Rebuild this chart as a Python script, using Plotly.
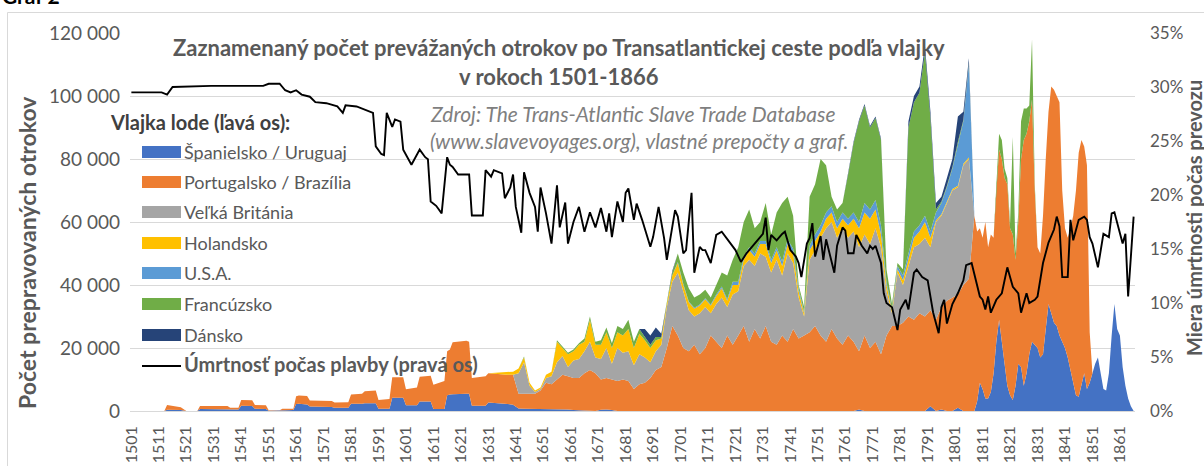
import plotly.graph_objects as go

# ---------------- data ----------------
YEARS_EARLY = [1501, 1513, 1514, 1518, 1519, 1521, 1525, 1526, 1536, 1537, 1540, 1541, 1542, 1545,
               1546, 1549, 1550, 1551, 1555, 1556, 1560, 1561, 1562, 1565, 1566, 1574, 1575, 1580,
               1581, 1585, 1586, 1590, 1591, 1595, 1596, 1600, 1601, 1605, 1606, 1610, 1611, 1615,
               1616, 1617, 1618, 1623, 1624, 1625, 1630, 1631, 1636, 1638]
YEARS_MAIN = list(range(1640, 1807, 2))
YEARS_LATE = list(range(1808, 1867))

SPAIN_EARLY = [0, 0, 400, 400, 300, 0, 0, 600, 600, 500, 500, 1700, 1700, 1600,
               700, 700, 600, 100, 100, 300, 300, 2200, 2300, 2100, 1400, 1300, 1000, 1000,
               2300, 2300, 2500, 2500, 700, 700, 4200, 4200, 1800, 1800, 3000, 3000, 600, 600,
               5000, 5200, 5300, 5500, 5500, 1700, 1700, 2700, 2500, 2200]
PORTUGAL_EARLY = [0, 0, 1500, 1100, 900, 0, 0, 1000, 1000, 500, 500, 1800, 1800, 1800,
                  1200, 1200, 1200, 100, 100, 400, 400, 2500, 2600, 2700, 1900, 1900, 1700, 1800,
                  2900, 3200, 3800, 4000, 2800, 3100, 6500, 6500, 5100, 5700, 7900, 8200, 7700, 8900,
                  14000, 14300, 16500, 16800, 16500, 8800, 9300, 9300, 9000, 9300]

SPAIN_MAIN = [2000, 800, 700, 700, 600, 700, 500, 500, 700, 500,
              500, 300, 200, 100, 0, 0, 400, 500, 300, 0,
              0, 0, 0, 0, 0, 0, 0, 0, 0, 0,
              0, 0, 0, 0, 0, 0, 0, 0, 0, 0,
              0, 0, 0, 0, 0, 0, 0, 0, 0, 0,
              0, 0, 0, 0, 0, 0, 0, 0, 0, 0,
              0, 0, 0, 500, 0, 0, 0, 0, 0, 0,
              0, 0, 0, 0, 0, 0, 1500, 0, 500, 0,
              0, 1000, 0, 0]
PORTUGAL_MAIN = [9500, 4700, 4800, 4800, 4900, 5800, 8500, 8000, 9300, 11000,
                 10500, 10200, 10300, 11900, 13000, 12000, 9600, 10000, 9700, 9500,
                 10000, 9500, 7000, 8500, 9000, 10500, 13000, 14000, 20000, 27000,
                 24000, 20000, 19000, 21000, 18000, 20000, 24000, 22000, 20000, 24000,
                 21000, 24000, 27000, 22000, 26000, 23000, 27000, 22000, 21000, 24000,
                 22000, 26000, 23000, 24000, 25000, 27000, 24000, 22000, 26000, 23000,
                 21000, 24000, 22000, 18500, 24000, 20000, 22000, 18000, 24000, 27000,
                 27000, 28000, 30000, 29000, 31000, 30000, 30500, 29000, 32500, 35000,
                 36000, 36000, 40000, 42000]

SPAIN_LATE = [0, 3000, 9000, 7000, 4000, 4000, 6000, 12000, 22000, 29000,
              22000, 14000, 8000, 5000, 3500, 8000, 15000, 14000, 8000, 12000,
              18000, 22000, 21000, 20000, 17000, 18000, 26000, 34000, 31000, 28000,
              27000, 24000, 22000, 20000, 17000, 13000, 8000, 5000, 4500, 8000,
              12000, 7000, 9000, 12000, 15000, 17000, 12000, 7000, 6500, 12000,
              24000, 34000, 26000, 24000, 14000, 8000, 4000, 1500, 0]
PORTUGAL_LATE = [62000, 54000, 49000, 48000, 56000, 48000, 50000, 43000, 48000, 54000,
                 58000, 60000, 64000, 53000, 52500, 40000, 45000, 66000, 78000, 76000,
                 74000, 77000, 49000, 32000, 33000, 44000, 54000, 61000, 72000, 74000,
                 73000, 74000, 48000, 38000, 38000, 45000, 54000, 65000, 77500, 78000,
                 72000, 71000, 16000, 0, 0, 0, 0, 0, 0, 0,
                 0, 0, 0, 0, 0, 0, 0, 0, 0]

YEARS_GB = list(range(1640, 1809, 2))
BRITAIN = [0, 6500, 10000, 2500, 500, 500, 1500, 2500, 5500, 6000,
           3000, 5500, 6000, 7000, 9000, 5000, 6500, 9500, 5000, 10500,
           8500, 9500, 7500, 9500, 8000, 5000, 6000, 7000, 13000, 14000,
           20000, 18000, 13000, 9000, 13000, 13000, 7000, 12000, 16000, 9000,
           16000, 14000, 19000, 26000, 20000, 27000, 22000, 22000, 27000, 19000,
           28000, 21000, 13000, 6000, 23000, 24000, 31000, 36000, 34000, 32000,
           37000, 31000, 35000, 33000, 32000, 33000, 36000, 34000, 14000, 4000,
           17000, 12000, 16000, 23000, 22000, 25000, 20000, 31000, 29000, 31000,
           34000, 34000, 38000, 38000, 0]

YEARS_NL = [1631, 1636, 1638] + list(range(1640, 1809, 2))
HOLLAND = [0, 800, 1000,
           1000, 1500, 1500, 1000, 500, 500, 1000, 1500, 6500, 2500,
           4000, 3000, 4500, 3000, 7000, 4000, 4500, 5000, 5000, 5000,
           5500, 7000, 5500, 6500, 5500, 4500, 3500, 2000, 1000, 2000,
           3000, 2000, 2500, 2500, 2500, 2500, 2500, 2500, 3000, 2000,
           3000, 2000, 2000, 3000, 3000, 3000, 4000, 3000, 3000, 3000,
           3000, 3000, 2000, 1000, 3000, 3000, 2000, 3000, 3000, 3000,
           3000, 4000, 4000, 6000, 7000, 8000, 6000, 4000, 2000, 1000,
           1000, 1500, 2000, 3000, 4000, 5000, 3000, 500, 500, 500,
           500, 500, 500, 500, 0]

YEARS_US = list(range(1698, 1809, 2))
USA = [0, 300, 300, 300, 300, 300, 300, 300, 500, 500, 500,
       1000, 1000, 1000, 1000, 1000, 1000, 1000, 1000, 1000, 1500,
       1500, 1500, 1000, 500, 1500, 2000, 2000, 2000, 2000, 2000,
       2000, 2000, 2000, 2000, 3000, 3000, 3000, 3000, 1000, 500,
       1000, 1500, 2000, 2000, 2000, 2000, 2000, 2500, 3500, 4500,
       6500, 13500, 13500, 29500, 0]

YEARS_FR = list(range(1640, 1807, 2)) + list(range(1808, 1841))
FRANCE = [0, 0, 300, 0, 0, 0, 0, 0, 500, 500,
          500, 500, 500, 1000, 1000, 1000, 1500, 1500, 1500, 2000,
          2000, 3000, 2000, 1500, 1000, 1000, 1000, 500, 500, 1000,
          2700, 3700, 4200, 3200, 3200, 2700, 2200, 3000, 4500, 7500,
          7000, 11000, 11000, 12000, 8000, 6000, 12000, 8000, 11000, 18500,
          13500, 10500, 1000, 1500, 15500, 16000, 21000, 15000, 3000, 4000,
          3000, 14000, 22000, 32000, 31000, 26000, 26000, 27000, 4000, 1500,
          1000, 2000, 40000, 41000, 42000, 52000, 36000, 1000, 500, 500,
          500, 500, 500, 500,
          0, 0, 0, 0, 0, 0, 0, 0, 3000, 5000,
          6000, 3000, 2000, 1500, 31000, 2000, 3000, 12000, 10000, 8000,
          5000, 19000, 2000, 0, 0, 0, 0, 0, 0, 0,
          0, 0, 0]

YEARS_DK = list(range(1686, 1809, 2))
DENMARK = [0, 2500, 3000, 3000, 1000, 500, 500,
           0, 0, 0, 0, 0, 0, 0, 0, 0, 0,
           0, 0, 0, 0, 0, 0, 0, 0, 0, 0,
           0, 0, 0, 0, 0, 0, 0, 0, 0, 0,
           0, 500, 500, 500, 500, 500, 500, 500, 0, 0,
           0, 0, 2000, 2000, 2000, 2000, 2000, 2000, 1500, 2500,
           2500, 8000, 2500, 1500, 0]

MORT_YEARS = [1501, 1512, 1514, 1516, 1530, 1549, 1551, 1555, 1557, 1559, 1561, 1563, 1566, 1568,
              1572, 1576, 1578, 1579, 1583, 1586, 1588, 1589, 1590, 1592, 1593, 1594, 1596, 1597,
              1599, 1600, 1603, 1606, 1608, 1609, 1610, 1612, 1614, 1616, 1617, 1618, 1620, 1624,
              1625, 1629, 1630, 1631, 1632, 1633, 1636, 1637, 1639, 1640, 1641, 1643, 1644, 1646,
              1648, 1649, 1650, 1652, 1654, 1656, 1657, 1659, 1660, 1662, 1664, 1666, 1668, 1670,
              1672, 1674, 1675, 1676, 1678, 1680, 1681, 1682, 1684, 1685, 1687, 1690, 1691, 1693,
              1695, 1696, 1699, 1700, 1702, 1703, 1705, 1706, 1708, 1709, 1710, 1712, 1714, 1716,
              1718, 1720, 1721, 1723, 1725, 1727, 1729, 1731, 1732, 1733, 1734, 1736, 1738, 1739,
              1741, 1743, 1744, 1745, 1747, 1748, 1749, 1750, 1752, 1753, 1754, 1756, 1757, 1758,
              1760, 1761, 1762, 1764, 1765, 1767, 1769, 1770, 1771, 1772, 1774, 1775, 1776, 1778,
              1780, 1781, 1783, 1784, 1786, 1787, 1789, 1791, 1792, 1793, 1795, 1796, 1797, 1798,
              1800, 1802, 1804, 1805, 1807, 1810, 1811, 1812, 1813, 1814, 1816, 1818, 1820, 1822,
              1824, 1825, 1827, 1828, 1830, 1831, 1833, 1835, 1837, 1838, 1839, 1840, 1842, 1843,
              1844, 1846, 1848, 1849, 1850, 1851, 1853, 1854, 1855, 1857, 1858, 1859, 1860, 1862,
              1863, 1864, 1866]
MORT_PCT = [29.5, 29.5, 29.3, 30.0, 30.1, 30.1, 30.3, 30.3, 29.7, 29.5, 29.7, 29.3, 29.1, 28.6,
            28.5, 28.2, 27.6, 28.3, 28.2, 27.9, 27.7, 27.6, 24.5, 23.8, 23.7, 27.6, 26.3, 27.0,
            26.8, 24.2, 22.8, 24.2, 23.5, 23.3, 19.4, 19.0, 18.3, 23.5, 22.8, 22.6, 21.9, 21.9,
            18.1, 18.1, 22.3, 22.0, 21.7, 22.3, 22.0, 19.7, 20.7, 21.9, 18.9, 16.5, 22.1, 20.2,
            18.9, 16.6, 20.7, 18.3, 15.5, 20.9, 17.0, 19.3, 15.5, 17.5, 18.9, 16.6, 18.4, 17.0,
            18.8, 16.6, 18.3, 16.1, 19.4, 17.5, 20.2, 20.6, 17.7, 19.2, 17.7, 15.2, 16.1, 18.9,
            16.0, 14.0, 18.6, 18.0, 14.6, 14.9, 20.2, 12.8, 15.2, 14.9, 14.9, 13.7, 16.3, 16.6,
            15.9, 15.2, 14.9, 13.8, 14.6, 15.2, 15.8, 16.4, 17.9, 14.9, 16.3, 15.8, 16.4, 16.6,
            14.9, 14.3, 13.7, 12.4, 15.5, 16.0, 17.4, 14.3, 16.2, 14.0, 15.9, 14.0, 12.8, 15.3,
            17.0, 16.7, 14.6, 14.6, 16.3, 15.3, 14.6, 15.3, 15.0, 15.3, 13.7, 10.9, 10.0, 9.6,
            7.5, 9.4, 10.3, 9.4, 12.8, 13.1, 12.4, 12.1, 10.6, 9.1, 7.2, 9.6, 10.3, 8.1,
            9.9, 10.9, 12.1, 13.5, 13.7, 10.6, 10.3, 9.4, 10.6, 9.1, 10.3, 10.9, 13.3, 11.5,
            10.9, 9.1, 10.9, 10.0, 10.3, 10.6, 13.7, 15.6, 16.8, 18.0, 17.1, 12.4, 12.4, 17.7,
            15.8, 17.7, 18.0, 17.7, 16.1, 15.5, 13.3, 14.9, 16.4, 16.1, 18.3, 18.4, 17.4, 15.5,
            16.4, 10.6, 18.0, 17.7]

SERIES = [
    ("Španielsko / Uruguaj", YEARS_EARLY + YEARS_MAIN + YEARS_LATE,
     SPAIN_EARLY + SPAIN_MAIN + SPAIN_LATE, "#4472C4"),
    ("Portugalsko / Brazília", YEARS_EARLY + YEARS_MAIN + YEARS_LATE,
     PORTUGAL_EARLY + PORTUGAL_MAIN + PORTUGAL_LATE, "#ED7D31"),
    ("Veľká Británia", YEARS_GB, BRITAIN, "#A5A5A5"),
    ("Holandsko", YEARS_NL, HOLLAND, "#FFC000"),
    ("U.S.A.", YEARS_US, USA, "#5B9BD5"),
    ("Francúzsko", YEARS_FR, FRANCE, "#70AD47"),
    ("Dánsko", YEARS_DK, DENMARK, "#264478"),
]
LINE_NAME = "Úmrtnosť počas plavby (pravá os)"
TICK_YEARS = list(range(1501, 1862, 10))

TITLE = "Zaznamenaný počet prevážaných otrokov po Transatlantickej ceste podľa vlajky<br>v rokoch 1501-1866"
SOURCE1 = "Zdroj: The Trans-Atlantic Slave Trade Database"
SOURCE2 = "(www.slavevoyages.org), vlastné prepočty a graf."

# ---------------- layout helpers ----------------
W, H = 1204, 466
PL, PR, PT, PB = 130, 1135, 33, 411
FONT = "Lato"
GRAY = "#595959"


def fx(x):
    return (x - PL) / (PR - PL)


def fy(y):
    return (PB - y) / (PB - PT)


fig = go.Figure()
for name, xs, ys, col in SERIES:
    fig.add_trace(go.Scatter(x=xs, y=ys, name=name, stackgroup="flags", mode="lines",
                             line=dict(width=0, color=col), fillcolor=col,
                             showlegend=False, hoverinfo="skip"))
fig.add_trace(go.Scatter(x=MORT_YEARS, y=MORT_PCT, name=LINE_NAME, yaxis="y2", mode="lines",
                         line=dict(color="#000000", width=1.9), showlegend=False))

ann = []
shapes = []
# title
ann.append(dict(text="<b>" + TITLE + "</b>", x=fx(559), y=fy(62), xref="paper", yref="paper",
                showarrow=False, xanchor="center", yanchor="middle",
                font=dict(family=FONT, size=22, color=GRAY)))
# source
for txt, yy in ((SOURCE1, 113), (SOURCE2, 140)):
    ann.append(dict(text="<i>" + txt + "</i>", x=fx(428), y=fy(yy), xref="paper", yref="paper",
                    showarrow=False, xanchor="left", yanchor="middle",
                    font=dict(family=FONT, size=21, color="#7F7F7F")))
# legend
ann.append(dict(text="<b>Vlajka lode (ľavá os):</b>", x=fx(108), y=fy(122), xref="paper", yref="paper",
                showarrow=False, xanchor="left", yanchor="middle",
                font=dict(family=FONT, size=20, color="#404040")))
LEG_Y = [152, 182, 212, 243, 273, 304, 335]
for (name, xs, ys, col), ly in zip(SERIES, LEG_Y):
    shapes.append(dict(type="rect", xref="paper", yref="paper", x0=fx(142), x1=fx(181),
                       y0=fy(ly - 6), y1=fy(ly + 6), fillcolor=col, line=dict(width=0)))
    ann.append(dict(text=name, x=fx(182), y=fy(ly), xref="paper", yref="paper",
                    showarrow=False, xanchor="left", yanchor="middle",
                    font=dict(family=FONT, size=18, color=GRAY)))
shapes.append(dict(type="line", xref="paper", yref="paper", x0=fx(142), x1=fx(181),
                   y0=fy(366), y1=fy(366), line=dict(color="#000000", width=2)))
ann.append(dict(text="<b>" + LINE_NAME + "</b>", x=fx(182), y=fy(364), xref="paper", yref="paper",
                showarrow=False, xanchor="left", yanchor="middle",
                font=dict(family=FONT, size=20, color=GRAY)))
# axis titles
ann.append(dict(text="<b>Počet prepravovaných otrokov</b>", x=fx(27), y=fy(253), xref="paper",
                yref="paper", showarrow=False, textangle=-90, xanchor="center", yanchor="middle",
                font=dict(family=FONT, size=23, color=GRAY)))
ann.append(dict(text="<b>Miera úmrtnosti počas prevozu</b>", x=fx(1194), y=fy(218), xref="paper",
                yref="paper", showarrow=False, textangle=-90, xanchor="center", yanchor="middle",
                font=dict(family=FONT, size=20, color=GRAY)))
# "Graf 2" header, cut off at top
ann.append(dict(text="<b>Graf 2</b>", x=fx(0), y=fy(-4), xref="paper", yref="paper",
                showarrow=False, xanchor="left", yanchor="middle",
                font=dict(family=FONT, size=21, color="#000000")))
# chart frame
shapes.append(dict(type="rect", xref="paper", yref="paper", x0=fx(7.5), x1=fx(1215),
                   y0=fy(480), y1=fy(12.5), line=dict(color="#D9D9D9", width=1),
                   fillcolor="rgba(0,0,0,0)", layer="below"))

fig.update_layout(
    width=W, height=H,
    margin=dict(l=PL, r=W - PR, t=PT, b=H - PB, pad=0, autoexpand=False),
    paper_bgcolor="white", plot_bgcolor="white",
    separators=", ",
    font=dict(family=FONT, color=GRAY),
    xaxis=dict(range=[1500.5, 1866.5], tickmode="array", tickvals=TICK_YEARS,
               ticktext=[str(t) for t in TICK_YEARS], tickangle=-90, showgrid=False,
               zeroline=False, showline=False, ticks="", ticklabelstandoff=11, automargin=False,
               tickfont=dict(family=FONT, size=16, color=GRAY)),
    yaxis=dict(range=[0, 120000], dtick=20000, tickformat=",d", showgrid=True,
               gridcolor="#D9D9D9", gridwidth=1, zeroline=True, zerolinecolor="#D9D9D9",
               zerolinewidth=1, ticks="", ticklabelstandoff=9, automargin=False,
               tickfont=dict(family=FONT, size=19, color=GRAY)),
    yaxis2=dict(range=[0, 35], dtick=5, ticksuffix="%", overlaying="y", side="right",
                showgrid=False, zeroline=False, ticks="", ticklabelstandoff=14, automargin=False,
                tickfont=dict(family=FONT, size=17, color=GRAY)),
    annotations=ann, shapes=shapes, showlegend=False,
)

fig.write_html("out.html", config={"displayModeBar": False},
               post_script="document.body.style.margin='0';")
